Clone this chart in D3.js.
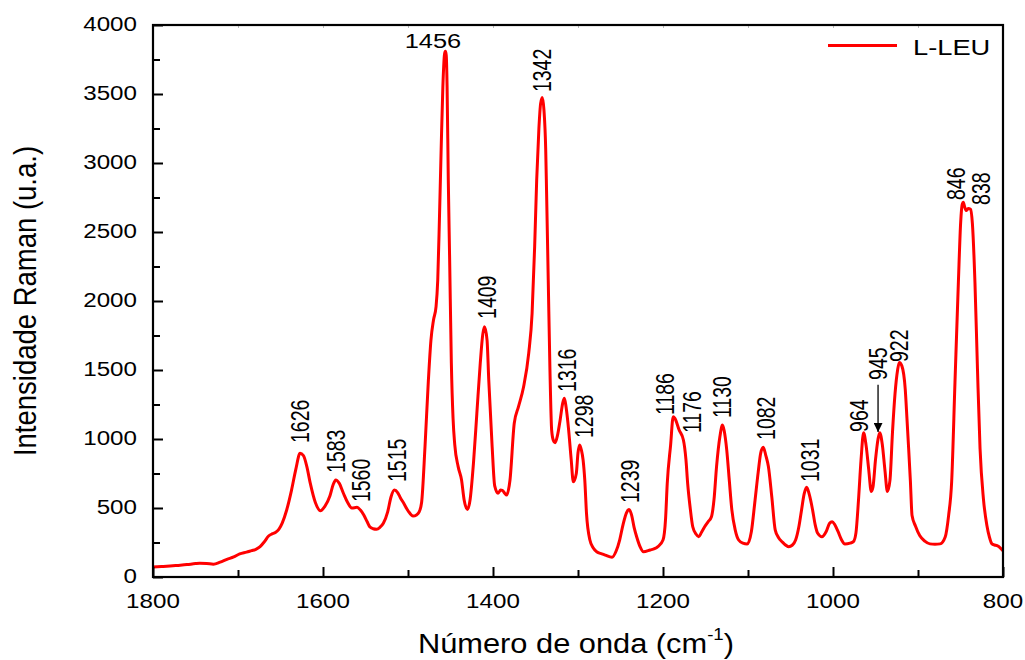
<!DOCTYPE html>
<html><head><meta charset="utf-8">
<script src="https://cdn.jsdelivr.net/npm/d3@7/dist/d3.min.js"></script>
<style>
body{margin:0;background:#fff}
svg{display:block}
text{font-family:"Liberation Sans",Arial,Helvetica,sans-serif;fill:#000}
</style>
</head><body>
<svg id="chart" width="1025" height="660"></svg>
<script>
// ---------------- data ----------------
const wavenumber = [1800,1790,1780,1772,1760,1750,1745,1737,1729,1721,1713,1705,1698,1690,1684,1679,1674,1669,1664,1660,1656,1652,1648,1643,1637,1632,1627,1623,1619,1615,1609,1603,1598,1592,1588,1585,1581,1576,1571,1566,1560,1556,1552,1548,1545,1541,1537,1533,1529,1524,1520,1516,1512,1509,1505,1500,1494,1490,1487,1484,1480,1476,1473,1470,1467,1465,1463,1461,1459,1457,1456,1455,1454,1452.6,1451,1449,1447,1445,1441,1437,1434,1430,1427,1423,1419,1415,1412,1410,1407,1405,1401,1398,1394,1391,1389,1386,1384,1380,1375,1370,1364,1358,1354,1351,1348.6,1346,1344,1342,1340,1338,1337,1335,1333,1331,1329,1327,1324,1321,1318,1316,1314,1311,1308,1305.5,1302,1300,1298,1296,1294,1292,1290,1286,1282,1278,1272,1268,1260,1255,1251,1247,1243,1240,1237,1234,1231,1227,1223,1215,1210,1206,1200,1197,1195,1191,1188,1186,1181,1176,1173,1171,1168,1165,1161,1158,1155,1151,1147,1143,1140,1137,1133,1130,1128,1125,1122,1119,1115,1111,1106,1101,1096,1092,1088,1085,1082,1079,1076,1072,1068,1064,1060,1052,1048,1044,1040,1037,1034,1031,1028,1024,1021,1018,1013,1008,1004,1001,998,994,990,986,980,976,973,970,967,964,961,958,955,953,950,947,945,942,939,936,933,930,927,924,922,919,915,913,911,909,907,903,898,892,886,880,874,868,864,860.4,856.5,852.5,849.8,848,846.7,845,843,841,838,836,833,830,827,823,819,816,813,810,807,803,800];
const intensity  = [72,76,80,84,90,97,99,98,93,108,128,145,167,180,191,200,220,255,297,312,322,345,390,480,630,780,896,880,800,680,540,480,510,585,670,703,680,607,540,500,505,485,449,400,364,350,346,360,389,470,580,630,610,575,534,480,442,450,470,540,944,1428,1717,1862,1960,2152,2600,3100,3550,3790,3810,3780,3550,2877,2300,1550,1150,960,800,703,560,490,558,824,1186,1549,1760,1814,1717,1428,944,660,607,630,628,605,594,703,1114,1234,1379,1621,1911,2393,2877,3250,3430,3475,3380,3100,2800,2150,1500,1065,990,973,1030,1138,1260,1295,1230,1065,850,690,750,900,957,920,848,700,461,268,210,183,168,159,143,190,268,380,465,490,450,360,292,220,183,196,205,220,268,420,679,960,1162,1150,1065,993,850,679,500,364,310,292,320,364,400,437,560,800,1020,1101,1060,920,700,486,340,268,245,239,330,540,760,900,940,880,800,580,341,285,256,220,230,268,370,486,600,650,600,486,380,317,292,330,390,401,380,328,270,239,245,256,320,558,850,1045,950,780,620,650,850,1000,1045,960,780,620,700,1050,1330,1500,1555,1530,1360,1150,930,700,445,370,300,260,240,238,240,290,445,690,1410,2135,2570,2700,2715,2680,2655,2670,2665,2560,2135,1500,930,565,375,290,240,232,227,210,190];

const seriesName = "L-LEU";
const xTicksMajor = [1800,1600,1400,1200,1000,800];
const xTicksMinor = [1700,1500,1300,1100,900];
const yTicksMajor = [0,500,1000,1500,2000,2500,3000,3500,4000];
const yTicksMinor = [250,750,1250,1750,2250,2750,3250,3750];
const xTitle = "Número de onda (cm";
const xTitleSup = "-1";
const yTitle = "Intensidade Raman (u.a.)";

// peak annotations (anchor in data coordinates: wavenumber, intensity)
const peakLabels   = ["1626","1583","1560","1515","1409","1342","1316","1298","1239","1186","1176","1130","1082","1031","964","945","922","846","838"];
const peakLabelWN  = [1627,1584.7,1555.3,1513,1407,1342.4,1314,1293,1239,1197.6,1166,1130.6,1078.8,1028,969.4,947,922.4,855.3,825.9];
const peakLabelInt = [971,754,543,688,1870,3514,1341,1007,536,1174,1043,1152,993,688,1051,1428,1558,2732,2696];
const topLabel = "1456", topLabelWN = 1470.6, topLabelInt = 3833;
const arrowWN = 947, arrowFrom = 1393, arrowTo = 1051;

// ---------------- layout ----------------
const svg = d3.select("#chart");
const L = 153, R = 1003, T = 25, B = 577;
const x = d3.scaleLinear().domain([1800, 800]).range([L, R]);
const y = d3.scaleLinear().domain([0, 4000]).range([B, T]);
const SX = 1.24;   // horizontal stretch of glyphs as in the reference

// data line
const pts = wavenumber.map((w, i) => [w, intensity[i]]);
svg.append("path")
  .datum(pts)
  .attr("fill", "none")
  .attr("stroke", "#ff0000")
  .attr("stroke-width", 3)
  .attr("stroke-linejoin", "round")
  .attr("d", d3.line().x(d => x(d[0])).y(d => y(d[1])).curve(d3.curveMonotoneX));

// axes (ticks inward)
const gx = svg.append("g").attr("transform", `translate(0,${B})`);
gx.call(d3.axisBottom(x).tickValues(xTicksMajor).tickSize(-10).tickFormat(""));
gx.call(g => g.append("g").call(d3.axisBottom(x).tickValues(xTicksMinor).tickSize(-7).tickFormat("")));
const gy = svg.append("g").attr("transform", `translate(${L},0)`);
gy.call(d3.axisLeft(y).tickValues(yTicksMajor).tickSize(-10).tickFormat(""));
gy.call(g => g.append("g").call(d3.axisLeft(y).tickValues(yTicksMinor).tickSize(-7).tickFormat("")));
svg.selectAll(".domain").remove();
svg.selectAll(".tick line").attr("stroke", "#000").attr("stroke-width", 2);

// faint top ticks
const gt = svg.append("g").attr("transform", `translate(0,${T})`);
gt.call(d3.axisTop(x).tickValues(xTicksMajor.concat(xTicksMinor)).tickSize(-3).tickFormat(""));
gt.select(".domain").remove();
gt.selectAll(".tick line").attr("stroke", "#bbb").attr("stroke-width", 1);

// frame
svg.append("rect").attr("x", L).attr("y", T).attr("width", R - L).attr("height", B - T)
  .attr("fill", "none").attr("stroke", "#000").attr("stroke-width", 2.2);

// tick labels
svg.append("g").selectAll("text").data(xTicksMajor).join("text")
  .attr("transform", d => `translate(${x(d)},608) scale(${SX},1)`)
  .attr("text-anchor", "middle").attr("font-size", 19.5).text(d => d);
svg.append("g").selectAll("text").data(yTicksMajor).join("text")
  .attr("transform", d => `translate(137,${y(d) + 6}) scale(${SX},1)`)
  .attr("text-anchor", "end").attr("font-size", 19.5).text(d => d);

// axis titles
const xt = svg.append("text")
  .attr("transform", `translate(576,653) scale(1.1,1)`)
  .attr("text-anchor", "middle").attr("font-size", 28);
xt.append("tspan").text(xTitle);
xt.append("tspan").attr("font-size", 17).attr("dy", -13).text(xTitleSup);
xt.append("tspan").attr("dy", 13).text(")");

svg.append("text")
  .attr("transform", `translate(36,${(T + B) / 2}) scale(1.14,1) rotate(-90)`)
  .attr("text-anchor", "middle").attr("font-size", 27.5).text(yTitle);

// legend
svg.append("line").attr("x1", 828).attr("x2", 897).attr("y1", 45.5).attr("y2", 45.5)
  .attr("stroke", "#ff0000").attr("stroke-width", 3);
svg.append("text").attr("transform", `translate(913,55) scale(${SX},1)`)
  .attr("font-size", 22).text(seriesName);

// peak labels (rotated)
svg.append("g").selectAll("text").data(peakLabels).join("text")
  .attr("transform", (d, i) => `translate(${x(peakLabelWN[i])},${y(peakLabelInt[i])}) scale(1.34,1) rotate(-90)`)
  .attr("dy", "0.36em").attr("text-anchor", "start").attr("font-size", 19.5).text(d => d);

svg.append("text")
  .attr("transform", `translate(${x(topLabelWN)},${y(topLabelInt)}) scale(1.27,1)`)
  .attr("text-anchor", "middle").attr("font-size", 20).text(topLabel);

// arrow for 945
svg.append("defs").append("marker").attr("id", "ah").attr("viewBox", "0 0 10 10")
  .attr("refX", 10).attr("refY", 5).attr("markerWidth", 9).attr("markerHeight", 9)
  .attr("markerUnits", "userSpaceOnUse").attr("orient", "auto")
  .append("path").attr("d", "M0,0 L10,5 L0,10 z").attr("fill", "#000");
svg.append("line")
  .attr("x1", x(arrowWN)).attr("x2", x(arrowWN))
  .attr("y1", y(arrowFrom)).attr("y2", y(arrowTo))
  .attr("stroke", "#000").attr("stroke-width", 1.3).attr("marker-end", "url(#ah)");
</script>
</body></html>
